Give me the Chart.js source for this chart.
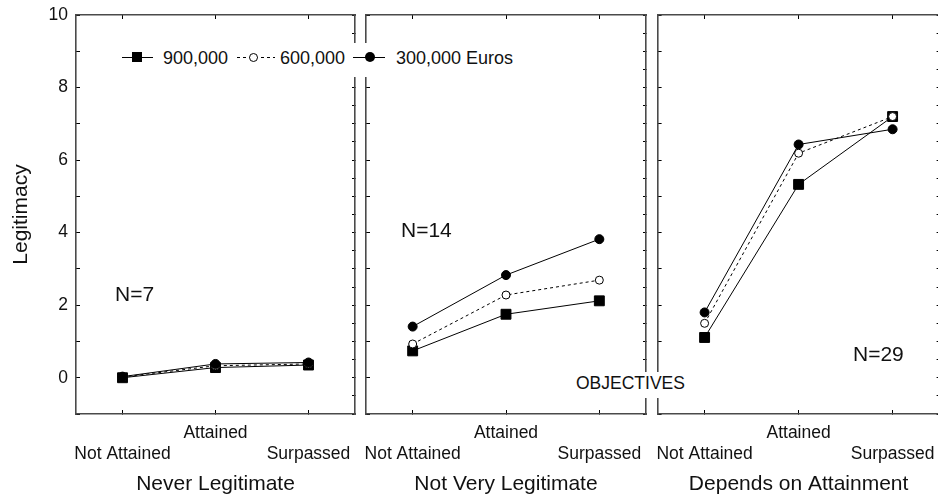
<!DOCTYPE html>
<html lang="en">
<head>
<meta charset="UTF-8">
<title>Legitimacy by objectives</title>
<script src="https://cdn.jsdelivr.net/npm/chart.js@4"></script>
<style>
  html, body { margin: 0; padding: 0; background: #fff; }
  #wrap { position: relative; width: 938px; height: 497px; overflow: hidden; background: #fff;
          font-family: "Liberation Sans", Arial, sans-serif; color: #111; }
  canvas { position: absolute; top: 0; }
  .txt { position: absolute; white-space: nowrap; line-height: 1; transform: translateY(-50%); }
  .legend { position: absolute; left: 115px; top: 43px; width: 405px; height: 34px; background: #fff; }
  .seg { position: absolute; height: 0; border-top: 1px solid #000; }
  .dash { position: absolute; height: 1px; background: repeating-linear-gradient(90deg, #000 0 3px, transparent 3px 6px); }
  .mk { position: absolute; box-sizing: border-box; }
  .obj { position: absolute; left: 572px; top: 372px; width: 118px; height: 26px; background: #fff; }
</style>
</head>
<body>
<div id="wrap">
  <canvas id="c1" width="360" height="497" style="left:0"></canvas>
  <canvas id="c2" width="292" height="497" style="left:358px"></canvas>
  <canvas id="c3" width="294" height="497" style="left:650px"></canvas>

  <div class="legend"></div>
  <div class="seg" style="left:122px; top:57px; width:31px"></div>
  <div class="mk" style="left:132px; top:52px; width:10px; height:10px; background:#000"></div>
  <span class="txt" style="left:163px; top:58px; font-size:18px">900,000</span>
  <div class="dash" style="left:237px; top:57px; width:38px"></div>
  <div class="mk" style="left:249px; top:53px; width:9px; height:9px; border:1px solid #000; border-radius:50%; background:#fff"></div>
  <span class="txt" style="left:280px; top:58px; font-size:18px">600,000</span>
  <div class="seg" style="left:353px; top:57px; width:32px"></div>
  <div class="mk" style="left:365px; top:52px; width:10px; height:10px; border-radius:50%; background:#000"></div>
  <span class="txt" style="left:396px; top:58px; font-size:18px">300,000 Euros</span>

  <span class="txt" style="left:115px; top:293px; font-size:21px">N=7</span>
  <span class="txt" style="left:401px; top:229px; font-size:21px">N=14</span>
  <span class="txt" style="left:853px; top:353px; font-size:21px">N=29</span>

  <div class="obj"></div>
  <span class="txt" style="left:576px; top:384px; font-size:17.5px">OBJECTIVES</span>
</div>
<script>
const categories = ['Not Attained', 'Attained', 'Surpassed'];
const panelTitles = ['Never Legitimate', 'Not Very Legitimate', 'Depends on Attainment'];
const seriesNames = ['900,000', '600,000', '300,000 Euros'];

// Legitimacy means
const never900 = [0.00, 0.28, 0.35];
const never600 = [0.02, 0.33, 0.38];
const never300 = [0.03, 0.38, 0.42];
const notVery900 = [0.74, 1.75, 2.12];
const notVery600 = [0.93, 2.28, 2.69];
const notVery300 = [1.41, 2.83, 3.82];
const depends900 = [1.11, 5.33, 7.20];
const depends600 = [1.50, 6.19, 7.20];
const depends300 = [1.80, 6.43, 6.85];

const yMin = -1, yMax = 10, yStep = 1;

const FONT = '"Liberation Sans", Arial, sans-serif';
Chart.defaults.font.family = FONT;
Chart.defaults.color = '#111';
const AXIS = '#4a4a4a';

function noPad(s) {
  s.paddingLeft = 0; s.paddingRight = 0; s.paddingTop = 0; s.paddingBottom = 0;
}

function makeDatasets(v900, v600, v300) {
  return [
    { label: seriesNames[0], data: v900, borderColor: '#000', borderWidth: 1, pointStyle: 'rect',
      pointRadius: 7, pointBackgroundColor: '#000', pointBorderColor: '#000', order: 3 },
    { label: seriesNames[1], data: v600, borderColor: '#000', borderWidth: 1, borderDash: [3, 3], pointStyle: 'circle',
      pointRadius: 4, pointBackgroundColor: '#fff', pointBorderColor: '#000', pointBorderWidth: 1, order: 2 },
    { label: seriesNames[2], data: v300, borderColor: '#000', borderWidth: 1, pointStyle: 'circle',
      pointRadius: 4.5, pointBackgroundColor: '#000', pointBorderColor: '#000', order: 1 },
  ];
}

function makeChart(id, datasets, title, opts) {
  return new Chart(document.getElementById(id), {
    type: 'line',
    data: { labels: categories, datasets },
    options: {
      responsive: false,
      animation: false,
      events: [],
      layout: { autoPadding: false, padding: { top: 15, right: opts.padRight, left: 0, bottom: 0 } },
      plugins: { legend: { display: false }, tooltip: { enabled: false } },
      scales: {
        x: {
          type: 'category', position: 'bottom', offset: true,
          border: { color: AXIS, width: 1.6 },
          grid: { drawOnChartArea: false, tickLength: -4, color: '#000' },
          ticks: {
            padding: 12, autoSkip: false, maxRotation: 0,
            font: { size: 17.5, lineHeight: 1.22 },
            callback(value, index) {
              const l = this.getLabelForValue(value);
              return index === 1 ? [l, ''] : ['', l];
            },
          },
          title: { display: true, text: title, font: { size: 21, lineHeight: 1.2 }, padding: { top: 0, bottom: 0 } },
          afterFit(s) { s.height = 83; noPad(s); },
        },
        x2: {
          type: 'category', position: 'top', offset: true,
          border: { color: AXIS, width: 1.6 },
          grid: { drawOnChartArea: false, tickLength: -4, color: '#000' },
          ticks: { display: false },
          afterFit(s) { s.height = 0; noPad(s); },
        },
        y: {
          position: 'left', min: yMin, max: yMax,
          border: { color: AXIS, width: 1.6 },
          grid: { drawOnChartArea: false, tickLength: -4, color: '#000' },
          ticks: {
            display: opts.showY, stepSize: yStep, padding: 12,
            font: { size: 17.5 },
            callback: v => (v % 2 === 0 ? v : ''),
          },
          title: { display: opts.showY, text: 'Legitimacy', font: { size: 21, lineHeight: 1.2 }, padding: { top: 9, bottom: 0 } },
          afterFit(s) { s.width = opts.yWidth; noPad(s); },
        },
        y2: {
          position: 'right', min: yMin, max: yMax,
          border: { color: AXIS, width: 1.6 },
          grid: { drawOnChartArea: false, tickLength: -3, color: '#000' },
          ticks: { display: false, stepSize: 0.5 },
          afterFit(s) { s.width = 0; noPad(s); },
        },
      },
    },
  });
}

makeChart('c1', makeDatasets(never900, never600, never300), panelTitles[0], { showY: true, yWidth: 76, padRight: 5 });
makeChart('c2', makeDatasets(notVery900, notVery600, notVery300), panelTitles[1], { showY: false, yWidth: 8, padRight: 4 });
makeChart('c3', makeDatasets(depends900, depends600, depends300), panelTitles[2], { showY: false, yWidth: 7.6, padRight: 4.4 });
</script>
</body>
</html>
